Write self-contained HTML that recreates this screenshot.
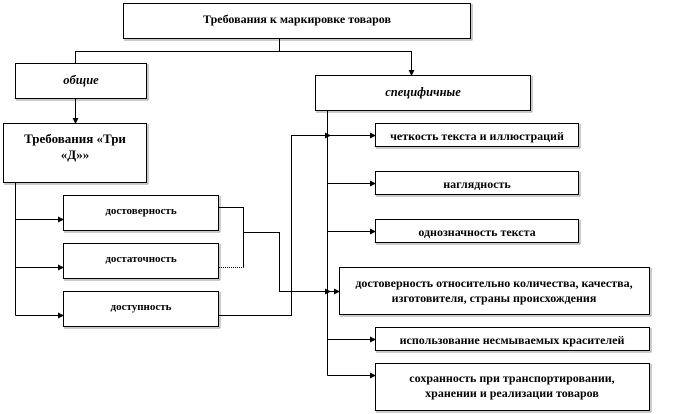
<!DOCTYPE html>
<html><head><meta charset="utf-8"><style>
html,body{margin:0;padding:0;background:#fff;}
svg{display:block;}
text{font-family:"Liberation Serif",serif;font-weight:bold;font-size:12px;fill:#000;text-anchor:middle;}
.i{font-style:italic;font-size:12.5px;}
.s{font-size:11px;}
</style></head><body>
<svg width="687" height="414" viewBox="0 0 687 414" xmlns="http://www.w3.org/2000/svg">
<defs><marker id="a" markerWidth="6" markerHeight="6" refX="5" refY="3" orient="auto" markerUnits="userSpaceOnUse"><path d="M0,0 L6,3 L0,6 z" fill="#000"/></marker></defs>
<g fill="none" stroke="#999" stroke-width="1">
<path d="M472,4 V40 H124"/><path d="M148,64 V100 H16"/><path d="M532,76 V112 H316"/><path d="M148,124 V184 H4"/>
<path d="M580,124 V148 H376"/><path d="M580,172 V196 H376"/><path d="M580,220 V244 H376"/>
<path d="M651,268 V316 H340"/><path d="M651,328 V352 H376"/><path d="M651,364 V412 H376"/>
<path d="M220,196 V232 H64"/><path d="M220,244 V280 H64"/><path d="M220,292 V328 H64"/>
</g>
<g fill="#fff" stroke="#000" stroke-width="1">
<rect x="123.5" y="3.5" width="347" height="35"/>
<rect x="15.5" y="63.5" width="131" height="35"/>
<rect x="315.5" y="75.5" width="215" height="35"/>
<rect x="3.5" y="123.5" width="143" height="59"/>
<rect x="63.5" y="195.5" width="155" height="35"/>
<rect x="63.5" y="243.5" width="155" height="35"/>
<rect x="63.5" y="291.5" width="155" height="35"/>
<rect x="375.5" y="123.5" width="203" height="23"/>
<rect x="375.5" y="171.5" width="203" height="23"/>
<rect x="375.5" y="219.5" width="203" height="23"/>
<rect x="339.5" y="267.5" width="310" height="47"/>
<rect x="375.5" y="327.5" width="274" height="23"/>
<rect x="375.5" y="363.5" width="274" height="47"/>
</g>
<g fill="none" stroke="#000" stroke-width="1">
<path d="M279.5,39 V51.5 H75.5 V63"/>
<path d="M279.5,51.5 H411.5 V75" marker-end="url(#a)"/>
<path d="M75.5,99 V123" marker-end="url(#a)"/>
<path d="M15.5,183 V315.5"/>
<path d="M15.5,219.5 H63" marker-end="url(#a)"/>
<path d="M15.5,267.5 H63" marker-end="url(#a)"/>
<path d="M15.5,315.5 H63" marker-end="url(#a)"/>
<path d="M219,207.5 H243.5 V267.5"/>
<path d="M219,267.5 H243.5" stroke-dasharray="1,1"/>
<path d="M243.5,232.5 H279.5 V291.5 H330" marker-end="url(#a)"/>
<path d="M330,291.5 H339" marker-end="url(#a)"/>
<path d="M219,315.5 H291.5 V135.5 H330" marker-end="url(#a)"/>
<path d="M327.5,111 V375.5"/>
<path d="M327.5,135.5 H375" marker-end="url(#a)"/>
<path d="M327.5,183.5 H375" marker-end="url(#a)"/>
<path d="M327.5,231.5 H375" marker-end="url(#a)"/>
<path d="M327.5,339.5 H375" marker-end="url(#a)"/>
<path d="M327.5,375.5 H375" marker-end="url(#a)"/>
</g>
<text x="297" y="23">Требования  к маркировке  товаров</text>
<text class="i" x="81" y="84">общие</text>
<text class="i" x="423" y="96">специфичные</text>
<text x="75" y="143" style="font-size:13px">Требования  «Три</text>
<text x="75" y="159" style="font-size:13px">«Д»»</text>
<text class="s" x="141" y="214">достоверность</text>
<text class="s" x="141" y="262">достаточность</text>
<text class="s" x="141" y="310">доступность</text>
<text x="477" y="140">четкость текста и иллюстраций</text>
<text x="477" y="188">наглядность</text>
<text x="477" y="236">однозначность текста</text>
<text x="494" y="287">достоверность  относительно количества, качества,</text>
<text x="494" y="302">изготовителя,  страны происхождения</text>
<text x="512" y="344">использование несмываемых красителей</text>
<text x="512" y="382">сохранность при транспортировании,</text>
<text x="512" y="397">хранении и реализации товаров</text>
</svg>
</body></html>
